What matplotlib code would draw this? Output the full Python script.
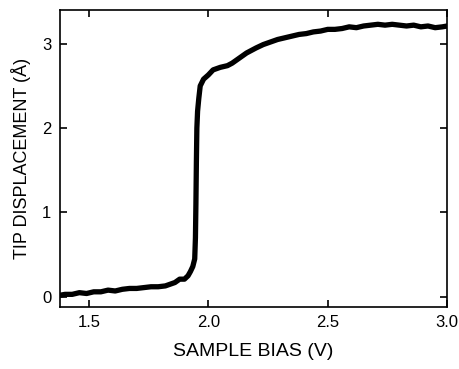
import matplotlib
matplotlib.use("Agg")
import matplotlib.pyplot as plt

# sample bias (V) and tip displacement (A)
bias = [1.38, 1.40, 1.43, 1.46, 1.49, 1.52, 1.55, 1.58, 1.61, 1.64, 1.67, 1.70,
        1.73, 1.76, 1.79, 1.82, 1.84, 1.86, 1.88, 1.90, 1.915, 1.925, 1.935,
        1.943, 1.946, 1.948, 1.950, 1.952, 1.955, 1.960, 1.966, 1.98, 2.00,
        2.02, 2.05, 2.08, 2.10, 2.13, 2.16, 2.20, 2.23, 2.26, 2.29, 2.32, 2.35,
        2.38, 2.41, 2.44, 2.47, 2.50, 2.53, 2.56, 2.59, 2.62, 2.65, 2.68, 2.71,
        2.74, 2.77, 2.80, 2.83, 2.86, 2.89, 2.92, 2.95, 2.98, 3.00]
disp = [0.02, 0.03, 0.03, 0.05, 0.04, 0.06, 0.06, 0.08, 0.07, 0.09, 0.10, 0.10,
        0.11, 0.12, 0.12, 0.13, 0.15, 0.17, 0.21, 0.21, 0.25, 0.30, 0.36,
        0.45, 0.70, 1.10, 1.60, 2.00, 2.20, 2.35, 2.50, 2.58, 2.63,
        2.69, 2.72, 2.74, 2.77, 2.83, 2.89, 2.95, 2.99, 3.02, 3.05, 3.07, 3.09,
        3.11, 3.12, 3.14, 3.15, 3.17, 3.17, 3.18, 3.20, 3.19, 3.21, 3.22, 3.23,
        3.22, 3.23, 3.22, 3.21, 3.22, 3.20, 3.21, 3.19, 3.20, 3.21]

xticks = [1.5, 2.0, 2.5, 3.0]
yticks = [0, 1, 2, 3]

plt.rcParams['font.family'] = ['Liberation Sans', 'DejaVu Sans']

fig = plt.figure(figsize=(4.6, 3.69), dpi=100)
ax = fig.add_axes([0.130, 0.168, 0.842, 0.805])
ax.plot(bias, disp, color='black', lw=3.8, solid_capstyle='round', solid_joinstyle='round')

ax.set_xlim(1.378, 3.0)
ax.set_ylim(-0.12, 3.40)
ax.set_xticks(xticks)
ax.set_xticklabels(['%.1f' % t for t in xticks])
ax.set_yticks(yticks)
ax.tick_params(direction='in', length=5, width=1.2, labelsize=12,
               top=True, right=True, pad=6)
for s in ax.spines.values():
    s.set_linewidth(1.2)

ax.set_xlabel('SAMPLE BIAS (V)', fontsize=14, labelpad=9)
ax.set_ylabel('TIP DISPLACEMENT (\u00c5)', fontsize=13, labelpad=8)

fig.savefig('out.png', dpi=100)
